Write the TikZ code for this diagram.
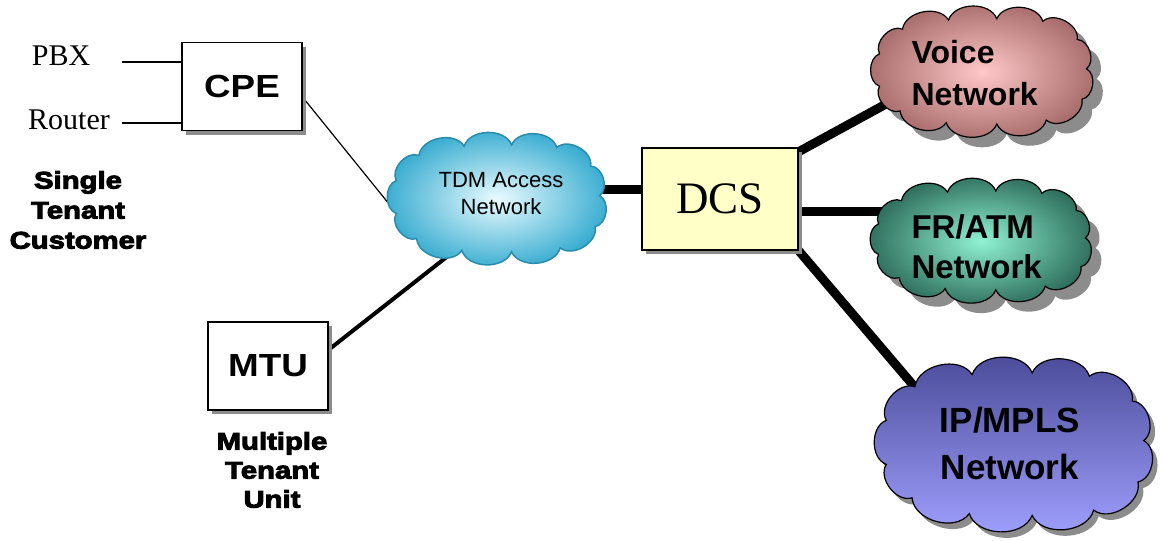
\documentclass[tikz,border=0pt]{standalone}
\usepackage{fontspec}
\setmainfont{Liberation Serif}
\setsansfont{Liberation Sans}
\newfontfamily\widesans{Liberation Sans}[FakeStretch=1.15]
\newfontfamily\heavyfont{Liberation Sans}[FakeStretch=1.22,FakeBold=4]
\usetikzlibrary{shadows,calc}
\pgfdeclarelayer{bg}
\pgfsetlayers{bg,main}

\definecolor{dcsyellow}{HTML}{FFFFC8}
\definecolor{tdmedge}{HTML}{2A8CAA}
\definecolor{tdmout}{HTML}{38ACD0}
\definecolor{tdmin}{HTML}{EAFBFF}
\definecolor{voiceout}{HTML}{A86C6C}
\definecolor{voicein}{HTML}{FFC8C8}
\definecolor{frout}{HTML}{2E6E5C}
\definecolor{frin}{HTML}{90F2D2}
\definecolor{iptop}{HTML}{4A4A98}
\definecolor{ipbot}{HTML}{A0A0FF}
\definecolor{shade}{HTML}{8C8C8C}

% puffy cloud outline: #1 centre, #2 x radius, #3 y radius (negative, page grows down), #4 path options
\newcommand\puffcloud[4]{%
  \begin{scope}[shift={#1},x=#2,y=#3]
    \path[#4] (-0.90,-0.28) to[bend left=70] (-0.70,-0.66) to[bend left=70] (-0.30,-0.80)
      to[bend left=70] (0.12,-0.82) to[bend left=70] (0.52,-0.78) to[bend left=70] (0.82,-0.50)
      to[bend left=70] (0.90,-0.05) to[bend left=70] (0.86,0.42) to[bend left=70] (0.55,0.74)
      to[bend left=70] (0.12,0.80) to[bend left=70] (-0.32,0.78) to[bend left=70] (-0.72,0.60)
      to[bend left=70] (-0.90,0.22) to[bend left=70] (-0.90,-0.28) -- cycle;
  \end{scope}}

\begin{document}
\begin{tikzpicture}[x=1pt,y=-1pt,
  box/.style={draw,line width=1.3pt,inner sep=0pt,
    drop shadow={shadow xshift=4pt,shadow yshift=-4pt,fill=shade,opacity=1}},
  area/.style={inner sep=0pt,outer sep=0pt},
  bigshadow/.style={drop shadow={shadow xshift=10pt,shadow yshift=-10pt,fill=shade,opacity=1}},
  serifsmall/.style={font=\fontsize{30}{32}\selectfont},
  heavylabel/.style={font=\heavyfont\bfseries\fontsize{24}{30}\selectfont,align=center},
  boxlabel/.style={font=\widesans\bfseries\fontsize{32}{36}\selectfont},
  cloudlabel/.style={font=\sffamily\bfseries\fontsize{32}{42}\selectfont,align=left},
  thinlink/.style={line width=1.2pt},
  lead/.style={line width=2pt},
  midlink/.style={line width=4pt},
  thicklink/.style={line width=9pt}]
\useasboundingbox (0,0) rectangle (1163,541);

% customer side
\node[box,fill=white,minimum width=120pt,minimum height=88pt,boxlabel] (cpe) at (242,86.5) {CPE};
\node[serifsmall] (pbx) at (61,56) {PBX};
\node[serifsmall] (router) at (69,120) {Router};
\coordinate (pbxlead) at (122,62);
\coordinate (routerlead) at (122,123);
\node[heavylabel] (single) at (78,210) {Single\\Tenant\\Customer};

\node[box,fill=white,minimum width=120pt,minimum height=88pt,boxlabel] (mtu) at (268,366) {MTU};
\node[heavylabel,font=\heavyfont\bfseries\fontsize{24}{29}\selectfont] (multi) at (272,470) {Multiple\\Tenant\\Unit};

% access network and cross-connect
\node[area,minimum width=226pt,minimum height=132pt] (tdm) at (498,199) {};
\puffcloud{(498,199)}{113pt}{-66pt}{draw=tdmedge,line width=1.5pt,inner color=tdmin,outer color=tdmout}
\node[font=\sffamily\fontsize{22}{27}\selectfont,align=center] (tdmtext) at (501,194) {TDM Access\\Network};

\node[box,fill=dcsyellow,minimum width=156pt,minimum height=102pt,
  font=\fontsize{45}{48}\selectfont] (dcs) at (720,199) {DCS};

% service networks
\node[area,minimum width=230pt,minimum height=130pt] (voice) at (983,72) {};
\puffcloud{(983,72)}{115pt}{-65pt}{draw,line width=1.2pt,inner color=voicein,outer color=voiceout,bigshadow}
\node[cloudlabel,anchor=west] (voicetext) at (908,73) {Voice\\Network};

\node[area,minimum width=230pt,minimum height=122pt] (fr) at (982,241) {};
\puffcloud{(982,241)}{115pt}{-61pt}{draw,line width=1.2pt,inner color=frin,outer color=frout,bigshadow}
\node[cloudlabel,anchor=west,font=\sffamily\bfseries\fontsize{33}{40}\selectfont] (frtext) at (908,247) {FR/ATM\\Network};

\node[area,minimum width=286pt,minimum height=176pt] (ip) at (1015,445) {};
\puffcloud{(1015,445)}{143pt}{-88pt}{draw,line width=1.2pt,top color=iptop,bottom color=ipbot,
  drop shadow={shadow xshift=5pt,shadow yshift=-6pt,fill=shade,opacity=1}}
\node[cloudlabel,align=center,font=\sffamily\bfseries\fontsize{35}{47}\selectfont] (iptext) at (1010,443) {IP/MPLS\\Network};

% connectors, kept behind the shapes
\coordinate (ipentry) at ($(ip.north west)!0.06!(ip.north east)$);
\begin{pgfonlayer}{bg}
\draw[lead] (pbxlead) -- (pbxlead -| cpe.west);
\draw[lead] (routerlead) -- (routerlead -| cpe.west);
\draw[thinlink] (cpe.-10) -- ($(cpe.-10)!1.15!(tdm.180)$);
\draw[midlink] (mtu.15) -- ($(mtu.15)!1.25!(tdm.227)$);
\draw[thicklink] (dcs.173) -- (dcs.173 -| tdm.center);
\draw[thicklink] (dcs.31) -- ($(dcs.31)!1.5!(voice.200)$);
\draw[thicklink] (dcs.-9.5) -- (dcs.-9.5 -| fr.center);
\draw[thicklink] (dcs.south east) -- ($(dcs.south east)!1.4!(ipentry)$);
\end{pgfonlayer}
\end{tikzpicture}
\end{document}
